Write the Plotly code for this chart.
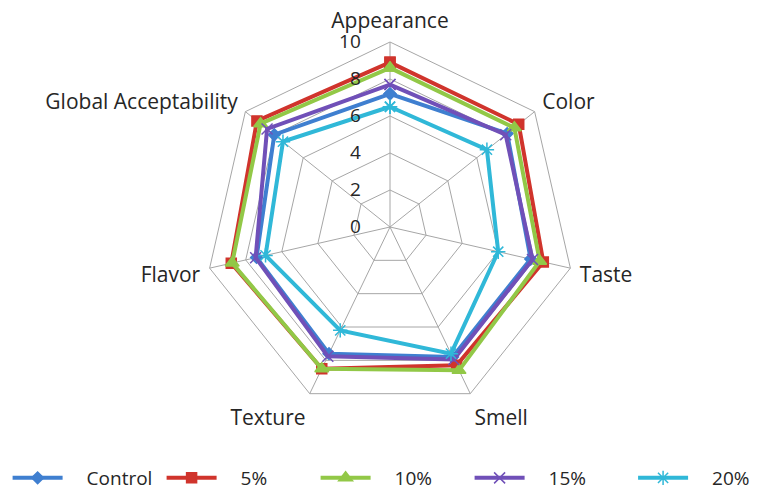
import plotly.graph_objects as go

categories = ["Appearance", "Color", "Taste", "Smell", "Texture", "Flavor", "Global Acceptability"]
series_names = ["Control", "5%", "10%", "15%", "20%"]
control = [7.2, 8.1, 7.8, 7.8, 7.6, 7.4, 8.0]
p5 = [8.9, 8.9, 8.5, 8.3, 8.5, 8.8, 9.2]
p10 = [8.6, 8.6, 8.3, 8.6, 8.5, 8.75, 8.95]
p15 = [7.7, 8.0, 7.9, 7.95, 7.75, 7.45, 8.5]
p20 = [6.5, 6.7, 6.0, 7.6, 6.2, 6.9, 7.4]
radial_ticks = [0, 2, 4, 6, 8, 10]

values = [control, p5, p10, p15, p20]
colors = ["#3F7FD0", "#D0342C", "#92C847", "#7050B8", "#30B8D8"]
symbols = ["diamond", "square", "triangle-up", "x-thin-open", "asterisk-open"]
sizes = [9, 10, 12, 11, 12]
legend_ids = ["legend", "legend", "legend", "legend", "legend2"]

fig = go.Figure()
for name, vals, col, sym, sz, lg in zip(series_names, values, colors, symbols, sizes, legend_ids):
    fig.add_trace(go.Scatterpolar(
        r=vals + vals[:1],
        theta=categories + categories[:1],
        name="\u2003" + name,
        mode="lines+markers",
        line=dict(color=col, width=4),
        marker=dict(symbol=sym, size=sz, color=col, line=dict(color=col, width=1.5)),
        legend=lg,
    ))

legend_common = dict(
    orientation="h", yanchor="bottom", xanchor="left", y=0.0,
    itemwidth=50,
    font=dict(family="Open Sans", size=19, color="#262626"),
    bgcolor="rgba(0,0,0,0)",
)

fig.update_layout(
    width=760, height=497,
    margin=dict(l=0, r=0, t=0, b=0, autoexpand=False),
    paper_bgcolor="white",
    font=dict(family="Open Sans", size=15, color="#262626"),
    polar=dict(
        domain=dict(x=[(390 - 185) / 760, (390 + 185) / 760], y=[1 - 412 / 497, 1 - 42 / 497]),
        gridshape="linear",
        bgcolor="white",
        radialaxis=dict(
            range=[0, 10], tickvals=radial_ticks, angle=90, tickangle=90,
            side="counterclockwise", showline=False,
            ticks="outside", ticklen=22, tickcolor="rgba(0,0,0,0)",
            gridcolor="#A6A6A6", gridwidth=1,
            tickfont=dict(family="Open Sans", size=19, color="#262626"),
        ),
        angularaxis=dict(
            rotation=90, direction="clockwise", showline=True,
            linecolor="#A6A6A6", linewidth=1, gridcolor="#A6A6A6",
            ticks="outside", ticklen=5, tickcolor="rgba(0,0,0,0)",
            tickfont=dict(family="Open Sans", size=21, color="#262626"),
        ),
    ),
    legend=dict(x=0.01, entrywidth=89, **legend_common),
    legend2=dict(x=0.833, **legend_common),
)

fig.write_html("out.html")
